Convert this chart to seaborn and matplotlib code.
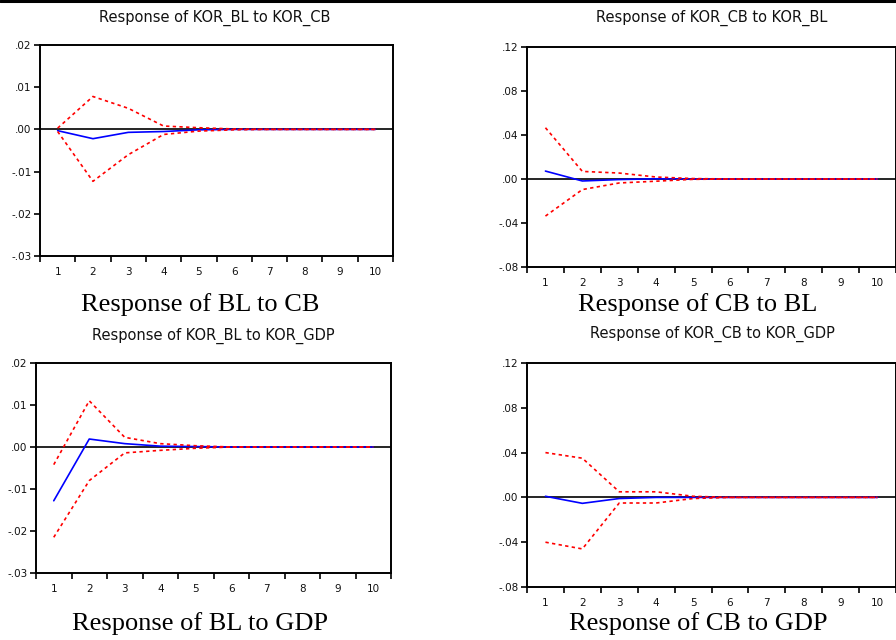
import numpy as np
import pandas as pd
import matplotlib
matplotlib.use("Agg")
import matplotlib.pyplot as plt
import seaborn as sns
from matplotlib.lines import Line2D
from matplotlib.ticker import FuncFormatter

sns.set_style("white")
plt.rcParams['font.family'] = ['DejaVu Sans']

periods = [1, 2, 3, 4, 5, 6, 7, 8, 9, 10]

# Response of KOR_BL to KOR_CB
bl_cb_resp = [-0.0003, -0.0022, -0.0007, -0.0005, -0.0001, 0.0, 0.0, 0.0, 0.0, 0.0]
bl_cb_up = [0.0003, 0.0078, 0.0050, 0.0008, 0.0004, 0.0001, 0.0, 0.0, 0.0, 0.0]
bl_cb_lo = [-0.0005, -0.0123, -0.0060, -0.0012, -0.0004, -0.0001, 0.0, 0.0, 0.0, 0.0]

# Response of KOR_CB to KOR_BL
cb_bl_resp = [0.0072, -0.0018, -0.0005, 0.0002, 0.0, 0.0, 0.0, 0.0, 0.0, 0.0]
cb_bl_up = [0.0466, 0.0069, 0.0054, 0.0018, 0.0004, 0.0, 0.0, 0.0, 0.0, 0.0]
cb_bl_lo = [-0.0337, -0.0096, -0.0036, -0.0020, -0.0003, 0.0, 0.0, 0.0, 0.0, 0.0]

# Response of KOR_BL to KOR_GDP
bl_gdp_resp = [-0.0128, 0.0019, 0.0008, 0.0002, 0.0001, 0.0, 0.0, 0.0, 0.0, 0.0]
bl_gdp_up = [-0.0042, 0.0110, 0.0023, 0.0008, 0.0003, 0.0, 0.0, 0.0, 0.0, 0.0]
bl_gdp_lo = [-0.0215, -0.0080, -0.0014, -0.0008, -0.0003, 0.0, 0.0, 0.0, 0.0, 0.0]

# Response of KOR_CB to KOR_GDP
cb_gdp_resp = [0.0010, -0.0053, -0.0010, 0.0, 0.0, 0.0, 0.0, 0.0, 0.0, 0.0]
cb_gdp_up = [0.0400, 0.0350, 0.0050, 0.0050, 0.0010, 0.0, 0.0, 0.0, 0.0, 0.0]
cb_gdp_lo = [-0.0400, -0.0460, -0.0050, -0.0050, -0.0010, 0.0, 0.0, 0.0, 0.0, 0.0]

small_titles = ["Response of KOR_BL to KOR_CB", "Response of KOR_CB to KOR_BL",
                "Response of KOR_BL to KOR_GDP", "Response of KOR_CB to KOR_GDP"]
captions = ["Response of BL to CB", "Response of CB to BL",
            "Response of BL to GDP", "Response of CB to GDP"]
yticks_bl = [-0.03, -0.02, -0.01, 0.0, 0.01, 0.02]
yticks_cb = [-0.08, -0.04, 0.0, 0.04, 0.08, 0.12]

panels = [
    (bl_cb_resp, bl_cb_up, bl_cb_lo, yticks_bl),
    (cb_bl_resp, cb_bl_up, cb_bl_lo, yticks_cb),
    (bl_gdp_resp, bl_gdp_up, bl_gdp_lo, yticks_bl),
    (cb_gdp_resp, cb_gdp_up, cb_gdp_lo, yticks_cb),
]

W, H = 896, 640
# (left, right, top, bottom) in pixels
boxes = [(40, 393, 45, 256), (527, 896, 47, 267), (36, 391, 363, 573), (527, 896, 363, 587)]
title_pos = [(215, 18), (712, 18), (213, 336), (712, 334)]
cap_pos = [(200, 305), (698, 305), (200, 624), (698, 624)]

fig = plt.figure(figsize=(W / 100, H / 100), dpi=100)
fig.patch.set_facecolor("white")

def fmt(v, pos):
    s = "%.2f" % v
    s = s.replace("0.", ".")
    if s == "-.00":
        s = ".00"
    return s

for i, (resp, up, lo, yt) in enumerate(panels):
    l, r, t, b = boxes[i]
    ax = fig.add_axes([l / W, 1 - b / H, (r - l) / W, (b - t) / H])
    df = pd.DataFrame({"period": periods * 3,
                       "value": resp + up + lo,
                       "series": ["resp"] * 10 + ["up"] * 10 + ["lo"] * 10})
    ax.axhline(0, color="black", lw=1.2, zorder=1)
    sns.lineplot(data=df[df.series == "up"], x="period", y="value", ax=ax,
                 color="red", lw=1.2, linestyle=(0, (2, 2)), zorder=3)
    sns.lineplot(data=df[df.series == "lo"], x="period", y="value", ax=ax,
                 color="red", lw=1.2, linestyle=(0, (2, 2)), zorder=3)
    sns.lineplot(data=df[df.series == "resp"], x="period", y="value", ax=ax,
                 color="blue", lw=1.2, zorder=2)
    ax.set_xlim(0.5, 10.5)
    ax.set_ylim(yt[0], yt[-1])
    ax.set_yticks(yt)
    ax.yaxis.set_major_formatter(FuncFormatter(fmt))
    ax.set_xticks(periods)
    ax.set_xticklabels([str(p) for p in periods])
    ax.set_xticks([p + 0.5 for p in [0] + periods], minor=True)
    ax.tick_params(axis="x", which="major", length=0, labelsize=7.5, pad=8)
    ax.tick_params(axis="x", which="minor", length=4, width=1.2, direction="out",
                   color="black", bottom=True)
    ax.tick_params(axis="y", which="major", length=4, width=1.2, direction="out",
                   color="black", left=True, labelsize=7.5, pad=2)
    for lab in ax.get_xticklabels() + ax.get_yticklabels():
        lab.set_color("#111111")
    ax.set_xlabel("")
    ax.set_ylabel("")
    for sp in ax.spines.values():
        sp.set_color("black")
        sp.set_linewidth(1.4)
        sp.set_visible(True)
    ax.grid(False)
    tx, ty = title_pos[i]
    fig.text(tx / W, 1 - ty / H, small_titles[i], ha="center", va="center",
             fontsize=10.5, color="#111111")
    cx, cy = cap_pos[i]
    fig.text(cx / W, 1 - cy / H, captions[i], ha="center", va="center",
             fontsize=19, family="Liberation Serif", color="black")

fig.add_artist(Line2D([0, 1], [1 - 1 / H, 1 - 1 / H], color="black", lw=2.2,
                      transform=fig.transFigure))

fig.savefig("out.png", dpi=100, facecolor="white")
